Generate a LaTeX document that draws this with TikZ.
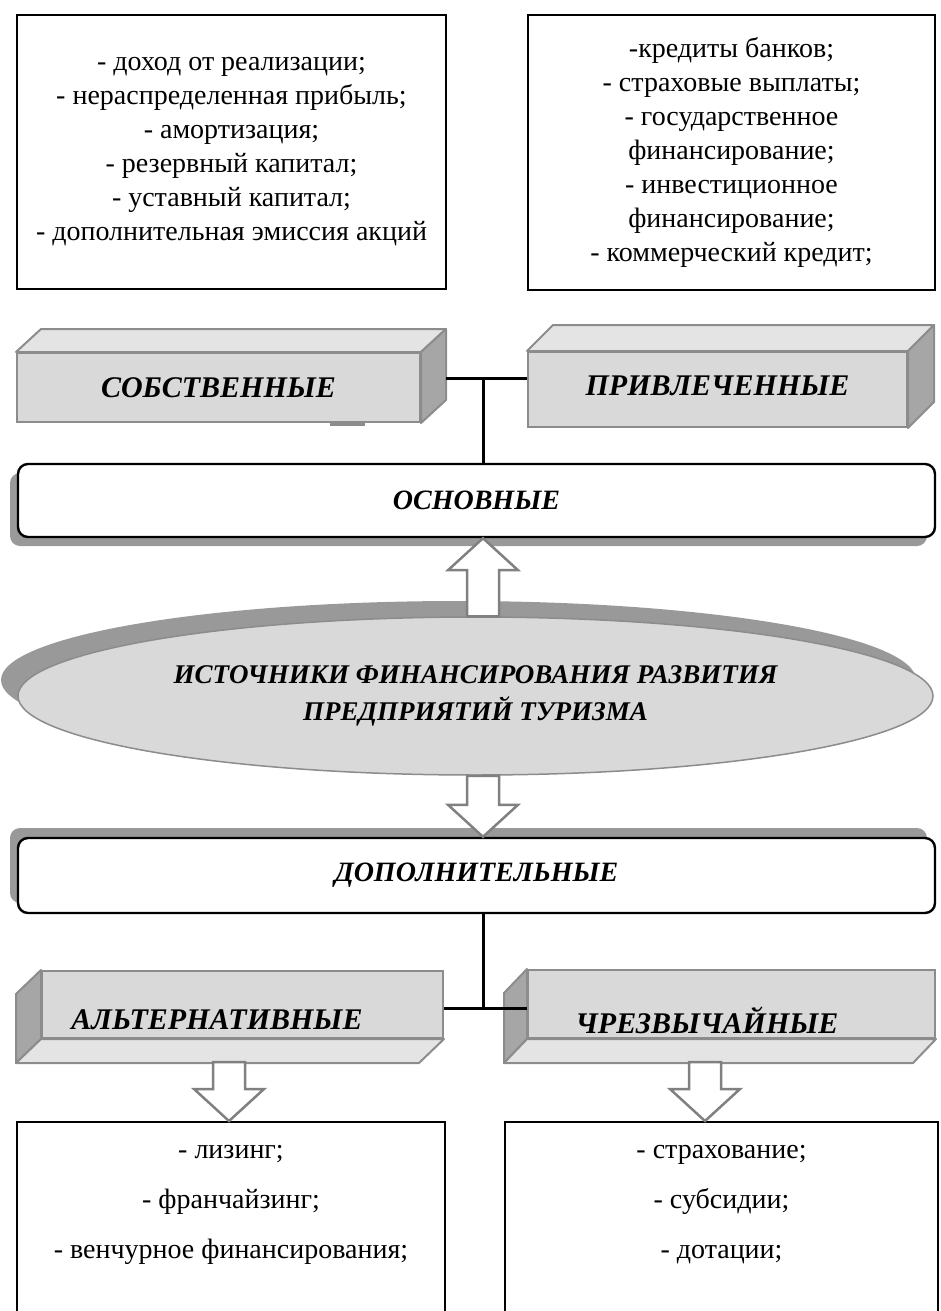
\documentclass[tikz,border=0pt]{standalone}
\usepackage{fontspec}
\setmainfont{Liberation Serif}
\usetikzlibrary{calc,positioning,shadows,shapes.geometric}

\definecolor{facegray}{HTML}{D9D9D9}
\definecolor{topgray}{HTML}{E4E4E4}
\definecolor{sidegray}{HTML}{A6A6A6}
\definecolor{edgegray}{HTML}{8C8C8C}
\definecolor{shadegray}{HTML}{999999}
\definecolor{arrowgray}{HTML}{808080}

\tikzset{
listbox/.style={
  rectangle,
  draw=black,
  line width=1pt,
  fill=white,
  inner sep=0pt,
  align=center,
  font=\fontsize{14}{17}\selectfont,
  }
}
\tikzset{
frontface/.style={
  rectangle,
  draw=edgegray,
  line width=1pt,
  fill=facegray,
  inner sep=0pt,
  font=\fontsize{15}{18}\selectfont\bfseries\itshape,
  },
topface/.style={draw=edgegray, line width=1pt, fill=topgray, line join=round},
sideface/.style={draw=edgegray, line width=1pt, fill=sidegray, line join=round},
boxtext/.style={inner sep=0pt, font=\fontsize{15}{18}\selectfont\bfseries\itshape},
kindbox/.style={
  rectangle,
  rounded corners=5pt,
  draw=black,
  line width=1.2pt,
  fill=white,
  inner sep=0pt,
  font=\fontsize{14}{18}\selectfont\bfseries\itshape,
  }
}
\tikzset{
link/.style={
  line width=1.5pt,
  draw=black
  },
hollowarr/.style={
  draw=arrowgray,
  line width=1.25pt,
  fill=white,
  line join=miter
  }
}

% hollow block arrow from #1 to the tip #2
\newcommand{\blockarrow}[2]{%
  \draw[hollowarr] let \p1=(#1), \p2=(#2), \p3=($(#2)!16pt!(#1)$) in
    (\x1-8pt,\y1) -- (\x1-8pt,\y3) -- (\x1-17.5pt,\y3) -- (\x2,\y2)
    -- (\x1+17.5pt,\y3) -- (\x1+8pt,\y3) -- (\x1+8pt,\y1) -- cycle;}

\begin{document}
\begin{tikzpicture}[x=0.5pt,y=-0.5pt]
    \useasboundingbox (0,0) rectangle (941,1311);

    % lists of sources
    \node[listbox, minimum width=214.5pt, minimum height=137pt] (ownlist) at (231.5,152) {- доход от реализации;\\- нераспределенная прибыль;\\- амортизация;\\- резервный капитал;\\- уставный капитал;\\- дополнительная эмиссия акций};
    \node[listbox, minimum width=203.5pt, minimum height=137.5pt] (borrowlist) at (731.5,152.5) {-кредиты банков;\\- страховые выплаты;\\- государственное\\финансирование;\\- инвестиционное\\финансирование;\\- коммерческий кредит;};

    % own and borrowed
    \node[frontface, minimum width=201.5pt, minimum height=34.5pt] (own) at (218.5,387.5) {СОБСТВЕННЫЕ};
    \filldraw[topface] (own.north west) -- ++(25,-23) -- ([shift={(25,-23)}]own.north east) -- (own.north east) -- cycle;
    \filldraw[sideface] (own.north east) -- ++(25,-23) -- ([shift={(25,-23)}]own.south east) -- (own.south east) -- cycle;
    \fill[edgegray] (330,422) rectangle (365,426);
    \node[frontface, minimum width=189.5pt, minimum height=37.5pt, text depth=4pt] (borrow) at (717.5,389.5) {ПРИВЛЕЧЕННЫЕ};
    \filldraw[topface] (borrow.north west) -- ++(26,-26) -- ([shift={(26,-26)}]borrow.north east) -- (borrow.north east) -- cycle;
    \filldraw[sideface] (borrow.north east) -- ++(26,-26) -- ([shift={(26,-26)}]borrow.south east) -- (borrow.south east) -- cycle;

    % basic
    \node[kindbox, minimum width=458.5pt, minimum height=36.5pt, drop shadow={shadow xshift=-4pt, shadow yshift=-4.5pt, fill=shadegray, opacity=1}] (basic) at (476.5,500.5) {ОСНОВНЫЕ};

    \coordinate (ownside) at ([shift={(25,-9.5)}]own.east);
    \coordinate (jtop) at (483,378);
    \draw[link] (ownside) -- (borrow.west |- ownside);
    \draw[link] (jtop) -- (jtop |- basic.north);

    % sources
    \node[ellipse, draw=edgegray, line width=0.75pt, fill=facegray, minimum width=457.5pt, minimum height=79pt, inner sep=0pt, align=center, font=\fontsize{13.5}{18.5}\selectfont\bfseries\itshape, drop shadow={shadow xshift=-8.5pt, shadow yshift=8pt, fill=shadegray, opacity=1}] (src) at (475.5,696) {ИСТОЧНИКИ ФИНАНСИРОВАНИЯ РАЗВИТИЯ\\ПРЕДПРИЯТИЙ ТУРИЗМА};

    % extra
    \node[kindbox, minimum width=458.5pt, minimum height=37.5pt, drop shadow={shadow xshift=-4pt, shadow yshift=5pt, fill=shadegray, opacity=1}] (extra) at (476.5,875.5) {ДОПОЛНИТЕЛЬНЫЕ};

    % alternative and emergency
    \node[frontface, minimum width=200.5pt, minimum height=33.5pt] (alt) at (242.5,1004.5) {};
    \filldraw[sideface] (alt.north west) -- ++(-25,24) -- ([shift={(-25,24)}]alt.south west) -- (alt.south west) -- cycle;
    \filldraw[topface] (alt.south west) -- ++(-25,24) -- ([shift={(-25,24)}]alt.south east) -- (alt.south east) -- cycle;
    \node[boxtext] (altlbl) at (217,1020) {АЛЬТЕРНАТИВНЫЕ};
    \node[frontface, minimum width=203.5pt, minimum height=34pt] (emerg) at (731.5,1004) {};
    \filldraw[sideface] (emerg.north west) -- ++(-23,24) -- ([shift={(-23,24)}]emerg.south west) -- (emerg.south west) -- cycle;
    \filldraw[topface] (emerg.south west) -- ++(-23,24) -- ([shift={(-23,24)}]emerg.south east) -- (emerg.south east) -- cycle;
    \node[boxtext] (emerglbl) at (707,1020) {ЧРЕЗВЫЧАЙНЫЕ};

    \coordinate (jbot) at (483,1008);
    \draw[link] (jbot |- extra.south) -- (jbot);
    \draw[link] (alt.east |- jbot) -- (emerg.west |- jbot);

    % lists of kinds
    \node[listbox, anchor=north, minimum width=214pt, minimum height=105pt, text height=59pt, text depth=28pt, inner ysep=9pt, font=\fontsize{14}{25}\selectfont] (altlist) at (231,1121) {- лизинг;\\- франчайзинг;\\- венчурное финансирования;};
    \node[listbox, anchor=north, minimum width=216.5pt, minimum height=105pt, text height=59pt, text depth=28pt, inner ysep=9pt, font=\fontsize{14}{25}\selectfont] (emerglist) at (721.5,1121) {- страхование;\\- субсидии;\\- дотации;};

    % arrows
    \coordinate (upfoot) at (jtop |- src.north);
    \coordinate (uptip) at (jtop |- basic.south);
    \coordinate (downfoot) at (jtop |- src.south);
    \coordinate (downtip) at (jtop |- extra.north);
    \coordinate (altfoot) at (229,1062);
    \coordinate (alttip) at (altfoot |- altlist.north);
    \coordinate (emergfoot) at (705,1062);
    \coordinate (emergtip) at (emergfoot |- emerglist.north);
    \blockarrow{upfoot}{uptip}
    \blockarrow{downfoot}{downtip}
    \blockarrow{altfoot}{alttip}
    \blockarrow{emergfoot}{emergtip}
\end{tikzpicture}
\end{document}
